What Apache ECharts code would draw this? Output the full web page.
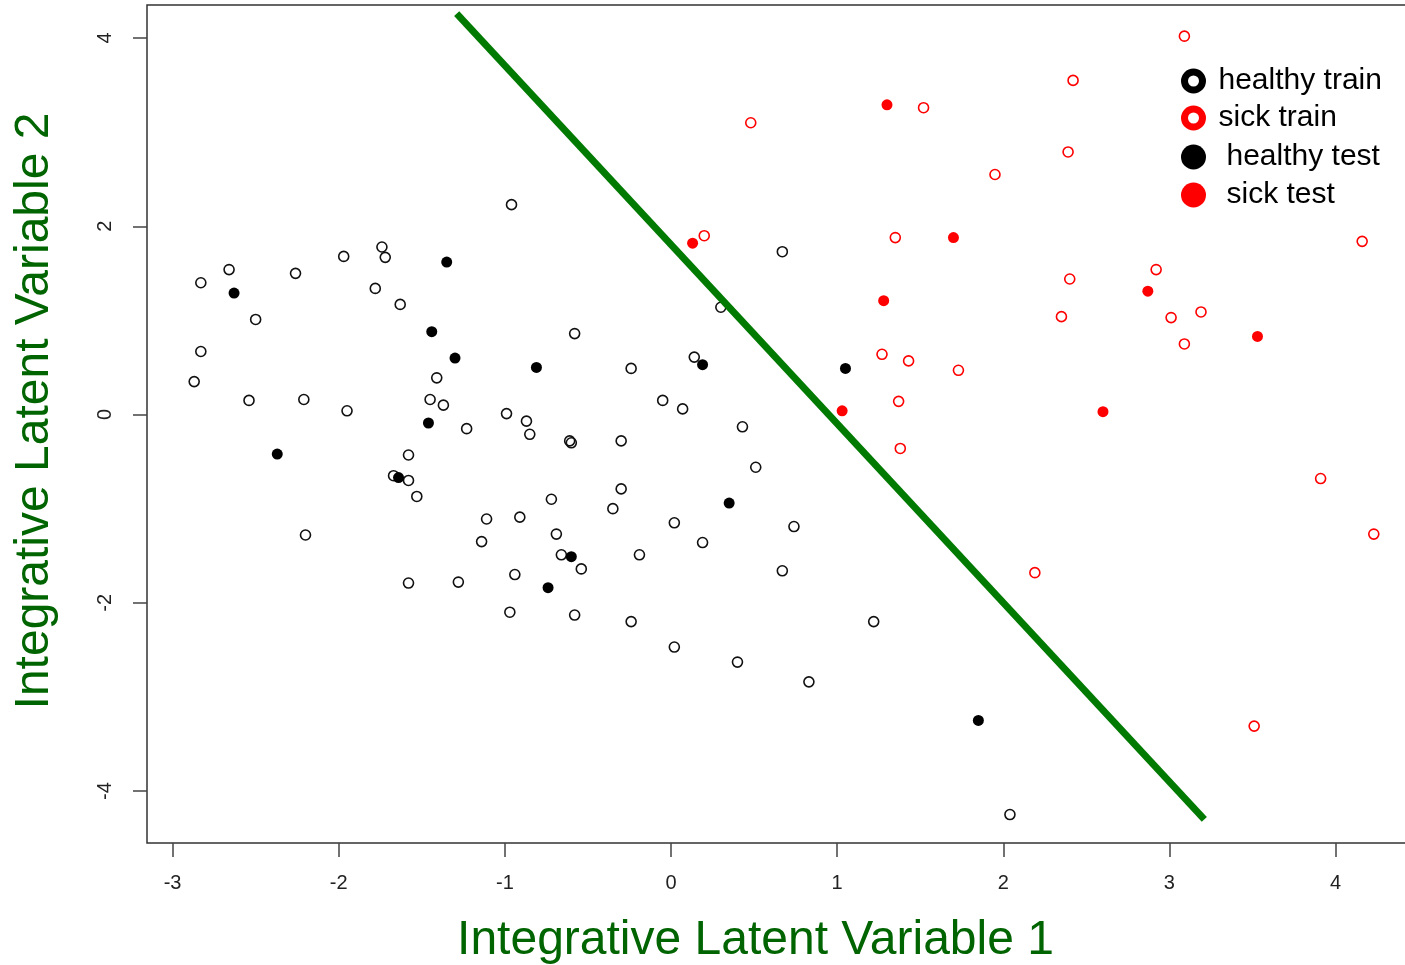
<!DOCTYPE html>
<html>
<head>
<meta charset="utf-8">
<script src="https://cdn.jsdelivr.net/npm/echarts@6/dist/echarts.min.js"></script>
<style>
  html, body { margin: 0; padding: 0; background: #fff; overflow: hidden; }
  #chart-container { width: 1405px; height: 965px; }
</style>
</head>
<body>
<div id="chart-container"></div>
<script>
// tick values on each axis
const xTicks = [-3, -2, -1, 0, 1, 2, 3, 4];
const yTicks = [-4, -2, 0, 2, 4];

// open black circles
const healthyTrain = [
  [-2.83, 1.40], [-2.66, 1.54], [-2.26, 1.50], [-1.97, 1.68], [-1.74, 1.78], [-1.72, 1.67],
  [-1.78, 1.34], [-1.63, 1.17], [-2.50, 1.01], [-2.83, 0.67], [-2.87, 0.35], [-2.54, 0.15],
  [-2.21, 0.16], [-1.95, 0.04], [-0.96, 2.23], [-1.41, 0.39], [-1.45, 0.16], [-1.37, 0.10],
  [-1.23, -0.15], [-0.58, 0.86], [-0.24, 0.49], [-0.99, 0.01], [-0.87, -0.07], [-0.85, -0.21],
  [-0.61, -0.28], [-0.60, -0.30], [-0.30, -0.28], [-0.05, 0.15], [0.07, 0.06], [0.14, 0.61],
  [0.30, 1.14], [0.67, 1.73], [0.43, -0.13], [0.51, -0.56], [-1.58, -0.43], [-1.67, -0.65],
  [-1.58, -0.70], [-1.53, -0.87], [-2.20, -1.28], [-1.11, -1.11], [-1.14, -1.35], [-0.91, -1.09],
  [-0.72, -0.90], [-0.69, -1.27], [-0.66, -1.49], [-0.54, -1.64], [-0.35, -1.00], [-0.30, -0.79],
  [0.02, -1.15], [0.19, -1.36], [-0.19, -1.49], [0.67, -1.66], [0.74, -1.19], [-1.58, -1.79],
  [-1.28, -1.78], [-0.94, -1.70], [-0.97, -2.10], [-0.58, -2.13], [-0.24, -2.20], [0.02, -2.47],
  [0.40, -2.63], [0.83, -2.84], [1.22, -2.20], [2.04, -4.25]
];

// open red circles
const sickTrain = [
  [3.09, 4.02], [2.42, 3.55], [1.52, 3.26], [0.48, 3.10], [2.39, 2.79], [1.95, 2.55],
  [0.20, 1.90], [1.35, 1.88], [4.16, 1.84], [2.92, 1.54], [2.40, 1.44], [2.35, 1.04],
  [3.01, 1.03], [3.19, 1.09], [3.09, 0.75], [1.27, 0.64], [1.43, 0.57], [1.73, 0.47],
  [1.37, 0.14], [1.38, -0.36], [3.91, -0.68], [4.23, -1.27], [2.19, -1.68], [3.51, -3.31]
];

// filled black dots
const healthyTest = [
  [-2.63, 1.29], [-1.35, 1.62], [-1.44, 0.88], [-1.30, 0.60], [-0.81, 0.50], [0.19, 0.53],
  [-1.46, -0.09], [-2.37, -0.42], [-1.64, -0.67], [-0.60, -1.51], [-0.74, -1.84], [0.35, -0.94],
  [1.05, 0.49], [1.85, -3.25]
];

// filled red dots
const sickTest = [
  [1.30, 3.29], [0.13, 1.82], [1.70, 1.88], [1.28, 1.21], [2.87, 1.31], [3.53, 0.83],
  [1.03, 0.04], [2.60, 0.03]
];

// separating line ends
const boundary = [[-1.29, 4.26], [3.21, -4.30]];

var dom = document.getElementById('chart-container');
var myChart = echarts.init(dom, null, { renderer: 'canvas' });

const titleGreen = '#006400';
const fontFam = '"Liberation Sans", Arial, sans-serif';

function legendBox(name, top, left, w, h, style) {
  return {
    orient: 'vertical',
    left: left,
    top: top,
    itemWidth: w,
    itemHeight: h,
    icon: 'circle',
    textStyle: { fontSize: 30, color: '#000', fontFamily: fontFam },
    data: [{ name: name, itemStyle: style }]
  };
}

var option = {
  animation: false,
  backgroundColor: '#fff',
  grid: {
    left: 147,
    top: 5,
    width: 1265,
    height: 838,
    outerBoundsMode: 'none',
    containLabel: false,
    show: true,
    borderColor: '#333',
    borderWidth: 1.5,
    backgroundColor: 'transparent'
  },
  legend: [
    legendBox('healthy train', 61, 1176, 40, 18, { color: '#fff', borderColor: '#000', borderWidth: 7, opacity: 1 }),
    legendBox('sick train', 98, 1176, 40, 18, { color: '#fff', borderColor: '#ff0000', borderWidth: 7, opacity: 1 }),
    legendBox('healthy test', 137, 1176, 56, 25, { color: '#000', borderWidth: 0, opacity: 1 }),
    legendBox('sick test', 175, 1176, 56, 25, { color: '#ff0000', borderWidth: 0, opacity: 1 })
  ],
  xAxis: {
    type: 'value',
    min: -3.154,
    max: 4.46,
    name: 'Integrative Latent Variable 1',
    nameLocation: 'middle',
    nameGap: 74,
    nameTextStyle: {
      fontSize: 48,
      color: titleGreen,
      fontFamily: fontFam,
      padding: [0, 48, 0, 0]
    },
    axisLine: { show: false, onZero: false },
    splitLine: { show: false },
    axisTick: {
      show: true,
      customValues: xTicks,
      length: 14,
      lineStyle: { color: '#444', width: 1.5 }
    },
    axisLabel: {
      customValues: xTicks,
      margin: 30,
      fontSize: 20,
      color: '#222',
      fontFamily: fontFam
    }
  },
  yAxis: {
    type: 'value',
    min: -4.552,
    max: 4.351,
    name: 'Integrative Latent Variable 2',
    nameLocation: 'middle',
    nameGap: 88,
    nameTextStyle: {
      fontSize: 48,
      color: titleGreen,
      fontFamily: fontFam,
      padding: [0, 0, 0, 26]
    },
    axisLine: { show: false, onZero: false },
    splitLine: { show: false },
    axisTick: {
      show: true,
      customValues: yTicks,
      length: 14,
      lineStyle: { color: '#444', width: 1.5 }
    },
    axisLabel: {
      customValues: yTicks,
      rotate: 90,
      margin: 32,
      fontSize: 20,
      color: '#222',
      fontFamily: fontFam
    }
  },
  series: [
    {
      name: 'healthy train',
      type: 'scatter',
      symbol: 'circle',
      symbolSize: 10,
      itemStyle: { color: 'rgba(0,0,0,0)', borderColor: '#111', borderWidth: 1.6, opacity: 1 },
      data: healthyTrain
    },
    {
      name: 'sick train',
      type: 'scatter',
      symbol: 'circle',
      symbolSize: 10,
      itemStyle: { color: 'rgba(0,0,0,0)', borderColor: '#ff0000', borderWidth: 1.6, opacity: 1 },
      data: sickTrain
    },
    {
      name: 'healthy test',
      type: 'scatter',
      symbol: 'circle',
      symbolSize: 11,
      itemStyle: { color: '#000', opacity: 1 },
      data: healthyTest
    },
    {
      name: 'sick test',
      type: 'scatter',
      symbol: 'circle',
      symbolSize: 11,
      itemStyle: { color: '#ff0000', opacity: 1 },
      data: sickTest
    },
    {
      name: 'boundary',
      type: 'line',
      showSymbol: false,
      symbol: 'none',
      z: 5,
      lineStyle: { color: '#007a00', width: 7, cap: 'butt' },
      data: boundary
    }
  ]
};

myChart.setOption(option);
window.addEventListener('resize', myChart.resize);
</script>
</body>
</html>
